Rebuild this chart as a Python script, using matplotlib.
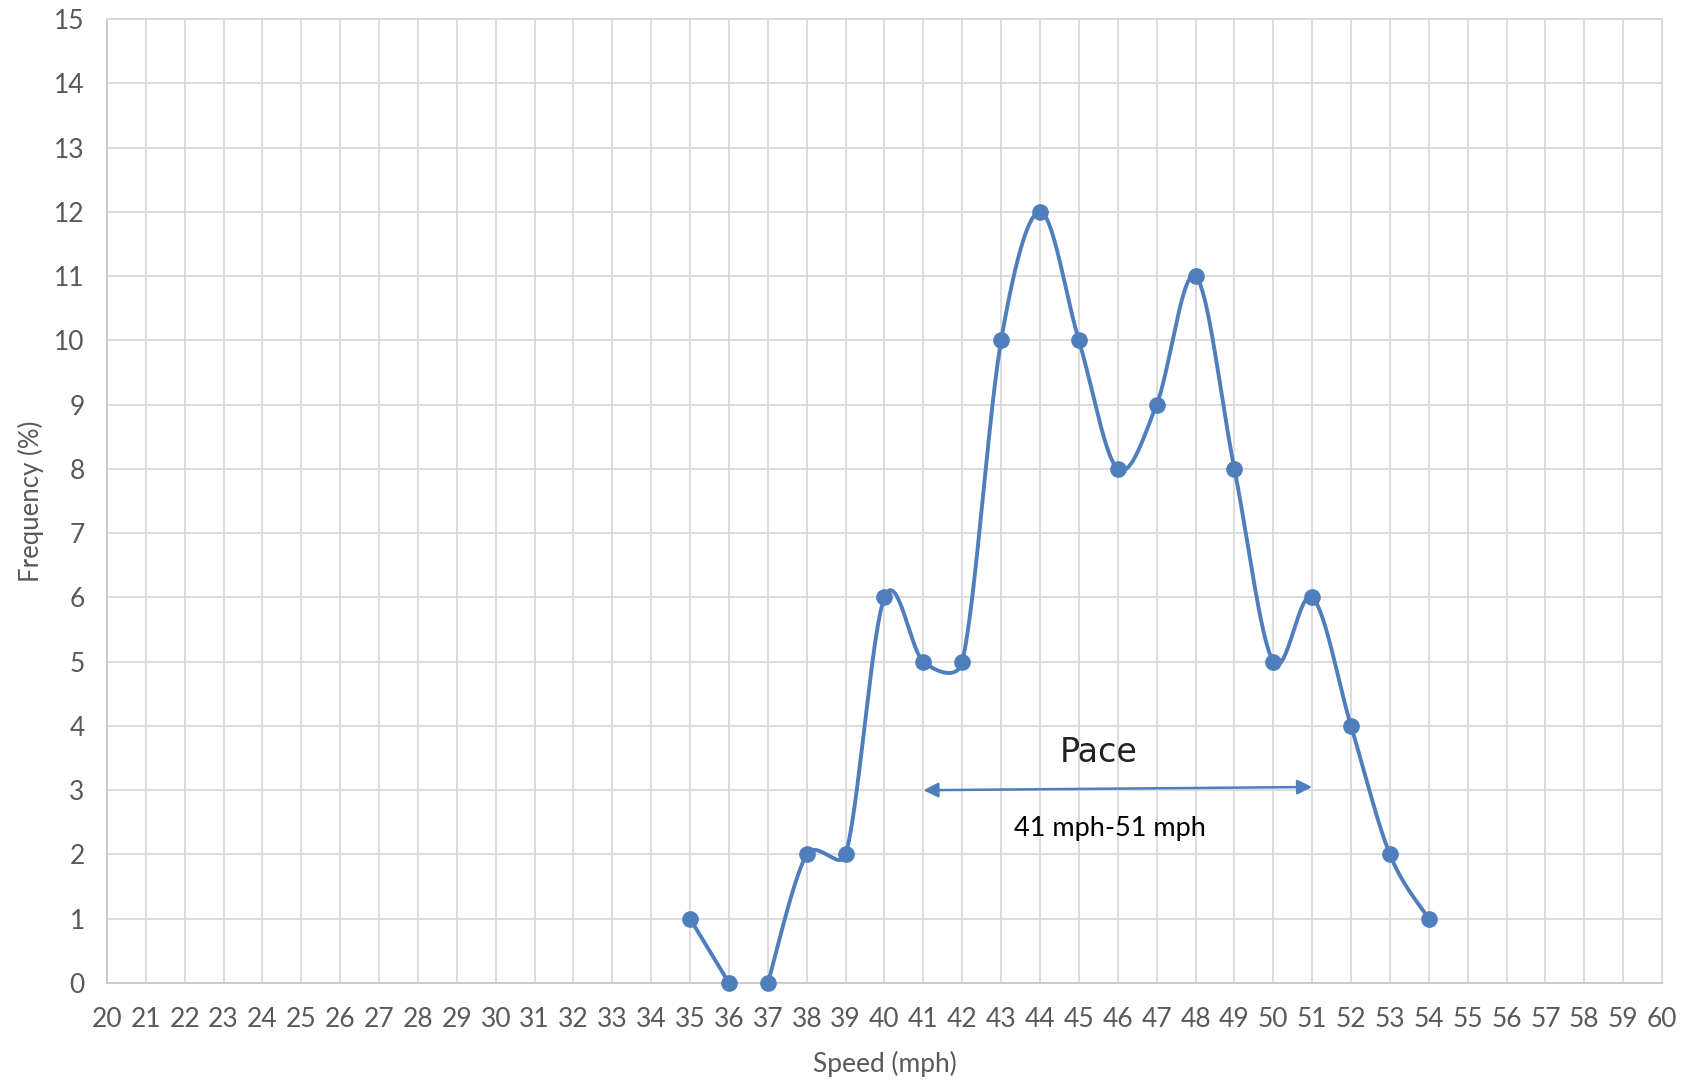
import numpy as np
import matplotlib
matplotlib.use("Agg")
import matplotlib.pyplot as plt

# Speed distribution (frequency in percent per 1 mph bin)
speeds = [35, 36, 37, 38, 39, 40, 41, 42, 43, 44, 45, 46, 47, 48, 49, 50, 51, 52, 53, 54]
freq = [1, 0, 0, 2, 2, 6, 5, 5, 10, 12, 10, 8, 9, 11, 8, 5, 6, 4, 2, 1]
# index ranges of the plotted line pieces (no line drawn between 36 and 37)
segments = [(0, 2), (2, 20)]

x_ticks = list(range(20, 61))
y_ticks = list(range(0, 16))

pace_start, pace_end = 41, 51
pace_y = [3.0, 3.05]
pace_title = "Pace"
pace_range = "41 mph-51 mph"

BLUE = "#4F7EBD"
GRID = "#D9D9D9"
TICK = "#595959"

plt.rcParams["font.family"] = ["Lato", "DejaVu Sans"]


def smooth(ax, xs, ys, n=60):
    """Spreadsheet-style Bezier smoothing computed in display space.

    Control handles follow the neighbour chord (1/6 of its length), capped
    at half of the adjacent segment length.
    """
    pts = ax.transData.transform(np.column_stack([xs, ys]).astype(float))
    m = len(pts)
    if m < 3:
        return np.asarray(xs, float), np.asarray(ys, float)

    out_h = np.zeros_like(pts)
    in_h = np.zeros_like(pts)
    for i in range(m):
        prev = pts[i - 1] if i > 0 else pts[i]
        nxt = pts[i + 1] if i + 1 < m else pts[i]
        chord = nxt - prev
        L = np.hypot(*chord)
        if L == 0:
            continue
        u = chord / L
        base = L / 6.0
        d_prev = np.hypot(*(pts[i] - prev))
        d_next = np.hypot(*(nxt - pts[i]))
        out_h[i] = u * min(base, d_next / 2.0)
        in_h[i] = u * min(base, d_prev / 2.0)

    t = np.linspace(0, 1, n)[:, None]
    out = []
    for i in range(m - 1):
        p0, p3 = pts[i], pts[i + 1]
        c1 = p0 + out_h[i]
        c2 = p3 - in_h[i + 1]
        seg = ((1 - t) ** 3) * p0 + 3 * ((1 - t) ** 2) * t * c1 + 3 * (1 - t) * t ** 2 * c2 + t ** 3 * p3
        out.append(seg if i == 0 else seg[1:])
    curve = ax.transData.inverted().transform(np.vstack(out))
    return curve[:, 0], curve[:, 1]


fig = plt.figure(figsize=(16.92, 10.8), dpi=100)
ax = fig.add_axes([0.0632, 0.0898, 0.9191, 0.8926])
ax.set_xlim(20, 60)
ax.set_ylim(0, 15)

for a, b in segments:
    sx, sy = smooth(ax, speeds[a:b], freq[a:b])
    ax.plot(sx, sy, color=BLUE, lw=2.8, solid_capstyle="round", zorder=3, clip_on=False)
ax.plot(speeds, freq, "o", color=BLUE, ms=11, zorder=4, clip_on=False)

ax.set_xticks(x_ticks)
ax.set_yticks(y_ticks)
ax.grid(True, color=GRID, lw=1.3, zorder=0)
ax.set_axisbelow(True)
for s in ax.spines.values():
    s.set_color(GRID)
    s.set_linewidth(1.3)
ax.spines["left"].set_color("#C8C8C8")
ax.spines["bottom"].set_color("#C8C8C8")
ax.tick_params(length=0, labelsize=19, labelcolor=TICK)
ax.tick_params(axis="x", pad=17)
ax.tick_params(axis="y", pad=16)

ax.set_xlabel("Speed (mph)", fontsize=19, color=TICK, labelpad=14)
ax.set_ylabel("Frequency (%)", fontsize=18.5, color=TICK, labelpad=7)

# pace annotation
ax.annotate("", xy=(pace_end, pace_y[1]), xytext=(pace_start, pace_y[0]),
            arrowprops=dict(arrowstyle="<|-|>", color=BLUE, lw=1.8,
                            mutation_scale=22, shrinkA=0, shrinkB=0), zorder=5)
ax.text(45.5, 3.58, pace_title, fontsize=24, family=["DejaVu Sans"], color="#222222",
        ha="center", va="center", zorder=5)
ax.text(45.8, 2.41, pace_range, fontsize=19.5, color="black", ha="center", va="center", zorder=5)

fig.savefig("out.png", dpi=100)
